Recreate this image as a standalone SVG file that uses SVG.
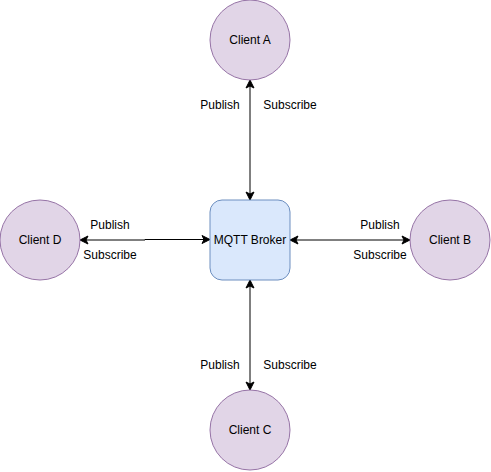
<svg xmlns="http://www.w3.org/2000/svg" width="491" height="472" viewBox="0 0 491 472">
<style>
.client{fill:#e1d5e7;stroke:#9673a6;stroke-width:1}
.broker{fill:#dae8fc;stroke:#6c8ebf;stroke-width:1}
.lbl{font-family:"Liberation Sans",Arial,sans-serif;font-size:12px;fill:#000}
.node{font-family:"Liberation Sans",Arial,sans-serif;font-size:12px;fill:#000;text-anchor:middle;dominant-baseline:central}
.edge{stroke:#000;stroke-width:1;fill:none}
</style>
<defs>
<marker id="arr" viewBox="0 0 10 10" refX="9" refY="5" markerWidth="10" markerHeight="10" markerUnits="userSpaceOnUse" orient="auto-start-reverse">
<path d="M1,1 L9,5 L1,9 L3,5 Z" fill="#000" stroke="#000" stroke-width="1"/>
</marker>
</defs>
<rect width="491" height="472" fill="#fff"/>
<g id="connectors">
<line class="edge" x1="250" y1="80" x2="250" y2="200" marker-start="url(#arr)" marker-end="url(#arr)"/>
<line class="edge" x1="250" y1="280" x2="250" y2="390" marker-start="url(#arr)" marker-end="url(#arr)"/>
<polyline class="edge" points="80,240 145,240 145,239.5 210,239.5" marker-start="url(#arr)" marker-end="url(#arr)"/>
<line class="edge" x1="290" y1="240" x2="410" y2="240" marker-start="url(#arr)" marker-end="url(#arr)"/>
<text class="lbl" x="220" y="109" text-anchor="middle">Publish</text>
<text class="lbl" x="290" y="109" text-anchor="middle">Subscribe</text>
<text class="lbl" x="110" y="229" text-anchor="middle">Publish</text>
<text class="lbl" x="110" y="259" text-anchor="middle">Subscribe</text>
<text class="lbl" x="380" y="229" text-anchor="middle">Publish</text>
<text class="lbl" x="380" y="259" text-anchor="middle">Subscribe</text>
<text class="lbl" x="220" y="369" text-anchor="middle">Publish</text>
<text class="lbl" x="290" y="369" text-anchor="middle">Subscribe</text>
</g>
<g id="broker">
<rect class="broker" x="210" y="200" width="80" height="80" rx="12" ry="12"/>
<text class="node" x="250" y="240">MQTT Broker</text>
</g>
<g id="clientA">
<circle class="client" cx="250" cy="40" r="40"/>
<text class="node" x="250" y="40">Client A</text>
</g>
<g id="clientB">
<circle class="client" cx="450" cy="240" r="40"/>
<text class="node" x="450" y="240">Client B</text>
</g>
<g id="clientC">
<circle class="client" cx="250" cy="430" r="40"/>
<text class="node" x="250" y="430">Client C</text>
</g>
<g id="clientD">
<circle class="client" cx="40" cy="240" r="40"/>
<text class="node" x="40" y="240">Client D</text>
</g>
</svg>
